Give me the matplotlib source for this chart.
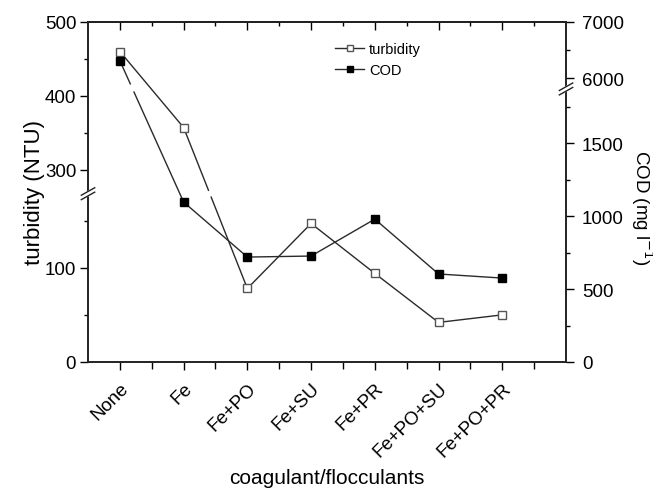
import numpy as np
import matplotlib.pyplot as plt
from matplotlib.ticker import FixedLocator, NullFormatter

plt.rcParams["font.family"] = ["Liberation Sans", "DejaVu Sans"]

categories = ["None", "Fe", "Fe+PO", "Fe+SU", "Fe+PR", "Fe+PO+SU", "Fe+PO+PR"]
turbidity = [460, 357, 78, 147, 94, 42, 50]
cod = [6310, 1096, 719, 726, 979, 603, 575]

# broken-axis mapping: (data breakpoints, axes fraction)
left_pts = ([-1000, 0, 175, 272, 500, 2000], [-2.77, 0, 0.485, 0.505, 1.0, 4.26])
right_pts = ([-5000, 0, 1850, 5900, 7000, 20000], [-2.145, 0, 0.794, 0.818, 1.0, 3.15])
left_gap = (0.485, 0.505)
right_gap = (0.794, 0.818)


def make_scale(pts):
    xs, fs = np.array(pts[0], float), np.array(pts[1], float)

    def fwd(v):
        return np.interp(v, xs, fs)

    def inv(f):
        return np.interp(f, fs, xs)

    return fwd, inv


def split_at_gap(x, y, fwd, inv, gap):
    # insert a break where a segment crosses the axis break region
    xo, yo = [x[0]], [y[0]]
    for i in range(1, len(x)):
        f0, f1 = fwd(y[i - 1]), fwd(y[i])
        lo, hi = min(f0, f1), max(f0, f1)
        if lo < gap[0] and hi > gap[1]:
            ga, gb = (gap[1], gap[0]) if f0 > f1 else (gap[0], gap[1])
            ta = (ga - f0) / (f1 - f0)
            tb = (gb - f0) / (f1 - f0)
            xo += [x[i - 1] + ta * (x[i] - x[i - 1]), np.nan, x[i - 1] + tb * (x[i] - x[i - 1])]
            yo += [inv(ga), np.nan, inv(gb)]
        xo.append(x[i])
        yo.append(y[i])
    return np.array(xo), np.array(yo)


fig = plt.figure(figsize=(6.53, 4.89), dpi=100)
ax = fig.add_axes([0.1348, 0.2577, 0.732, 0.6953])
ax2 = ax.twinx()

lf, li = make_scale(left_pts)
rf, ri = make_scale(right_pts)
ax.set_yscale("function", functions=(lf, li))
ax2.set_yscale("function", functions=(rf, ri))
ax.set_ylim(0, 500)
ax2.set_ylim(0, 7000)

x = np.arange(len(categories), dtype=float)
line_c = "#2a2a2a"
ms = 5.5

tx, ty = split_at_gap(x, turbidity, lf, li, left_gap)
ax.plot(tx, ty, color=line_c, lw=1.0)
ax.plot(x, turbidity, ls="none", marker="s", ms=ms, mfc="white", mec="#555555", mew=1.0)

cx, cy = split_at_gap(x, cod, rf, ri, right_gap)
ax2.plot(cx, cy, color=line_c, lw=1.0)
ax2.plot(x, cod, ls="none", marker="s", ms=ms, mfc="black", mec="black")

# legend proxies
h1, = ax.plot([], [], color=line_c, lw=1.0, marker="s", ms=5, mfc="white", mec="#555555")
h2, = ax.plot([], [], color=line_c, lw=1.0, marker="s", ms=5, mfc="black", mec="black")
ax.legend([h1, h2], ["turbidity", "COD"], loc="upper left", bbox_to_anchor=(0.505, 0.957),
          frameon=False, fontsize=10.5, handlelength=2.0, handletextpad=0.3,
          labelspacing=0.45, borderaxespad=0)

ax.set_xlim(-0.5, 7.0)
ax.set_xticks(x)
ax.set_xticklabels(categories, rotation=45, ha="right", rotation_mode="anchor", fontsize=13.5)
ax.xaxis.set_minor_locator(FixedLocator(x + 0.5))

top = ax.secondary_xaxis("top")
top.set_xticks(x)
top.xaxis.set_minor_locator(FixedLocator(x + 0.5))
top.tick_params(which="both", direction="in", labeltop=False)
top.tick_params(which="major", length=5.5, width=1.0)
top.tick_params(which="minor", length=3, width=1.0)
top.spines["top"].set_linewidth(1.2)

ax.yaxis.set_major_locator(FixedLocator([0, 100, 300, 400, 500]))
ax.yaxis.set_minor_locator(FixedLocator([50, 150, 350, 450]))
ax.yaxis.set_minor_formatter(NullFormatter())
ax.set_yticklabels(["0", "100", "300", "400", "500"])
ax2.yaxis.set_major_locator(FixedLocator([0, 500, 1000, 1500, 6000, 7000]))
ax2.yaxis.set_minor_locator(FixedLocator([250, 750, 1250, 1750, 6500]))
ax2.yaxis.set_minor_formatter(NullFormatter())
ax2.set_yticklabels(["0", "500", "1000", "1500", "6000", "7000"])

ax.tick_params(axis="x", which="both", direction="out", top=False)
ax.tick_params(axis="x", which="major", length=5.5, width=1.0, pad=7)
ax.tick_params(axis="x", which="minor", length=5, width=1.0)
ax.tick_params(axis="y", which="major", direction="out", length=5.5, width=1.0, labelsize=13.5, pad=3)
ax.tick_params(axis="y", which="minor", direction="out", length=3, width=1.0)
ax2.tick_params(axis="y", which="major", direction="out", length=5.5, width=1.0, labelsize=13.5, pad=6)
ax2.tick_params(axis="y", which="minor", direction="out", length=3, width=1.0)

for a in (ax, ax2):
    for s in a.spines.values():
        s.set_linewidth(1.2)
        s.set_color("#222222")

ax.set_ylabel("turbidity (NTU)", fontsize=16, labelpad=0)
ax2.set_ylabel("COD (mg l$^{-1}$)", fontsize=13.5, rotation=-90)
ax2.yaxis.label.set_va("center")
ax2.yaxis.set_label_coords(1.158, 0.455)
ax.set_xlabel("coagulant/flocculants", fontsize=15, labelpad=6)


def break_marks(a, xpos, ypos):
    dx, dy, sep = 0.014, 0.011, 0.013
    a.fill([xpos - dx, xpos + dx, xpos + dx, xpos - dx],
           [ypos - dy - sep / 2, ypos + dy - sep / 2, ypos + dy + sep / 2, ypos - dy + sep / 2],
           color="white", transform=a.transAxes, clip_on=False, zorder=5)
    for off in (-sep / 2, sep / 2):
        a.plot([xpos - dx, xpos + dx], [ypos - dy + off, ypos + dy + off], color="#222222",
               lw=1.0, transform=a.transAxes, clip_on=False, zorder=6)


break_marks(ax2, 0.0, 0.495)
break_marks(ax2, 1.0, 0.803)

fig.savefig("out.png", dpi=100)
